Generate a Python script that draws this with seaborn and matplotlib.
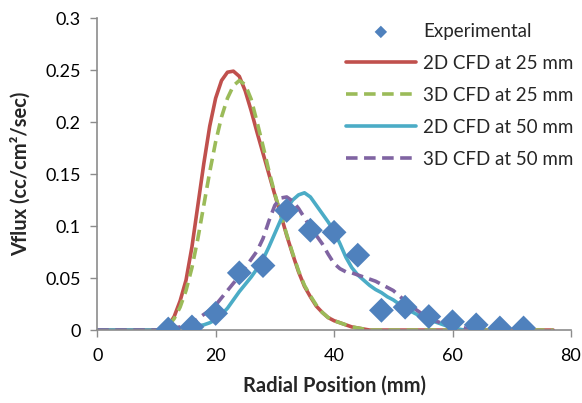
import numpy as np
import pandas as pd
import seaborn as sns
import matplotlib.pyplot as plt
from matplotlib.ticker import FuncFormatter

# experimental points
exp_x = [12, 16, 20, 24, 28, 32, 36, 40, 44, 48, 52, 56, 60, 64, 68, 72]
exp_y = [0.001, 0.003, 0.016, 0.055, 0.062, 0.115, 0.096, 0.094, 0.072,
         0.019, 0.022, 0.013, 0.008, 0.005, 0.002, 0.002]

# 2D CFD at 25 mm
x_2d25 = [0, 10] + list(range(11, 47)) + [77]
y_2d25 = [0, 0, 0.001, 0.004, 0.013, 0.028, 0.048, 0.08, 0.12, 0.16, 0.196,
          0.223, 0.24, 0.248, 0.249, 0.244, 0.23, 0.211, 0.19, 0.17, 0.15,
          0.13, 0.111, 0.091, 0.073, 0.056, 0.042, 0.032, 0.023, 0.017,
          0.012, 0.009, 0.007, 0.005, 0.003, 0.002, 0.001, 0, 0]

# 3D CFD at 25 mm
x_3d25 = [0, 10] + list(range(11, 47)) + [77]
y_3d25 = [0, 0, 0.001, 0.004, 0.011, 0.022, 0.038, 0.06, 0.088, 0.12, 0.152,
          0.181, 0.205, 0.223, 0.235, 0.24, 0.236, 0.222, 0.2, 0.177, 0.153,
          0.131, 0.111, 0.092, 0.074, 0.057, 0.043, 0.033, 0.024, 0.017,
          0.012, 0.009, 0.007, 0.005, 0.003, 0.002, 0.001, 0, 0]

# 2D CFD at 50 mm
x_2d50 = [0, 11, 12, 14, 16, 18] + list(range(19, 64))
y_2d50 = [0, 0, 0.001, 0.002, 0.003, 0.005, 0.007, 0.01, 0.015, 0.021,
          0.029, 0.037, 0.044, 0.051, 0.059, 0.068, 0.08, 0.093, 0.106,
          0.117, 0.125, 0.13, 0.132, 0.128, 0.12, 0.112, 0.104, 0.095,
          0.083, 0.07, 0.06, 0.053, 0.048, 0.043, 0.039, 0.036, 0.032,
          0.029, 0.025, 0.021, 0.018, 0.015, 0.012, 0.01, 0.008, 0.006,
          0.004, 0.002, 0.001, 0, 0]

# 3D CFD at 50 mm
x_3d50 = [0] + list(range(11, 64))
y_3d50 = [0, 0, 0.001, 0.002, 0.003, 0.005, 0.007, 0.011, 0.015, 0.019,
          0.024, 0.031, 0.038, 0.045, 0.052, 0.06, 0.068, 0.076, 0.088,
          0.105, 0.12, 0.127, 0.128, 0.124, 0.117, 0.108, 0.099, 0.091,
          0.083, 0.073, 0.064, 0.059, 0.056, 0.055, 0.053, 0.051, 0.049,
          0.047, 0.044, 0.041, 0.038, 0.033, 0.028, 0.023, 0.019, 0.015,
          0.012, 0.009, 0.007, 0.005, 0.004, 0.003, 0.002, 0]

sns.set_theme(style="white")
plt.rcParams['font.family'] = ['Lato', 'DejaVu Sans']

fig, ax = plt.subplots(figsize=(5.82, 4.03), dpi=100)
fig.subplots_adjust(left=0.167, right=0.981, top=0.955, bottom=0.181)

lw = 2.6
sns.lineplot(x=x_2d25, y=y_2d25, ax=ax, color="#C0504D", lw=lw,
             label="2D CFD at 25 mm")
sns.lineplot(x=x_3d25, y=y_3d25, ax=ax, color="#9BBB59", lw=lw,
             label="3D CFD at 25 mm")
sns.lineplot(x=x_2d50, y=y_2d50, ax=ax, color="#4BACC6", lw=lw,
             label="2D CFD at 50 mm")
sns.lineplot(x=x_3d50, y=y_3d50, ax=ax, color="#8064A2", lw=lw,
             label="3D CFD at 50 mm")
lines = ax.get_lines()
lines[1].set_dashes((3.2, 1.8))
lines[3].set_dashes((3.2, 1.8))

sns.scatterplot(x=exp_x, y=exp_y, ax=ax, marker="D", s=160,
                color="#4F81BD", edgecolor="none", label="Experimental",
                zorder=5)

ax.set_xlim(0, 80)
ax.set_ylim(0, 0.3)
ax.set_xticks([0, 20, 40, 60, 80])
ax.set_yticks([0, 0.05, 0.1, 0.15, 0.2, 0.25, 0.3])
ax.yaxis.set_major_formatter(FuncFormatter(lambda v, p: f"{v:g}"))
ax.tick_params(axis="both", labelsize=13, colors="#000000",
               direction="out", length=5, width=1, color="#8c8c8c",
               left=True, bottom=True)
ax.tick_params(axis="x", pad=8)
ax.tick_params(axis="y", pad=7)
for s in ["top", "right"]:
    ax.spines[s].set_visible(False)
for s in ["left", "bottom"]:
    ax.spines[s].set_color("#8c8c8c")
    ax.spines[s].set_linewidth(1.2)

ax.set_xlabel("Radial Position (mm)", fontsize=14.5, fontweight="bold",
              labelpad=8)
ax.set_ylabel("Vflux (cc/cm²/sec)", fontsize=14.5, fontweight="bold",
              labelpad=10)

handles, labels = ax.get_legend_handles_labels()
order = [4, 0, 1, 2, 3]
leg = ax.legend([handles[i] for i in order], [labels[i] for i in order],
                loc="upper right", bbox_to_anchor=(1.025, 1.015), frameon=False,
                fontsize=13.5, handlelength=3.7, labelspacing=0.8,
                handletextpad=0.4, borderaxespad=0.1)
leg.legend_handles[0].set_sizes([40])

fig.savefig("out.png", dpi=100)
